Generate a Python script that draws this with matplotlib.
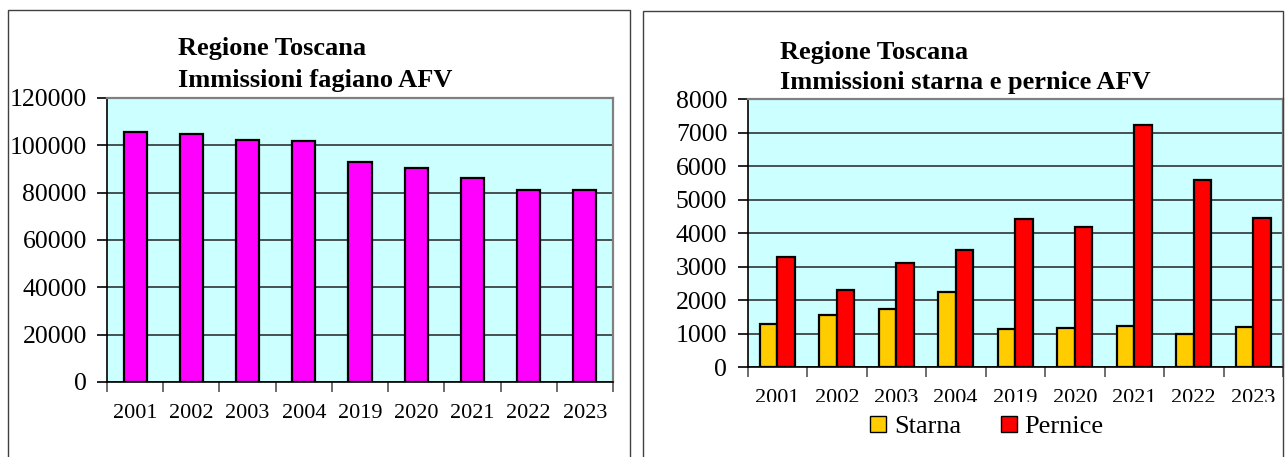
import matplotlib
matplotlib.use("Agg")
import matplotlib.pyplot as plt
import numpy as np
from matplotlib.patches import Rectangle
from matplotlib.transforms import Bbox

# ---------- data ----------
years = ["2001", "2002", "2003", "2004", "2019", "2020", "2021", "2022", "2023"]
fagiano = [105600, 105000, 102400, 101800, 93000, 90400, 86200, 81200, 81100]
starna = [1300, 1560, 1740, 2240, 1130, 1180, 1230, 1000, 1190]
pernice = [3280, 2320, 3100, 3510, 4420, 4190, 7230, 5590, 4450]

left_title = ["Regione Toscana", "Immissioni fagiano AFV"]
right_title = ["Regione Toscana", "Immissioni starna e pernice AFV"]

# ---------- style ----------
W, H = 1285, 457
BG = "#CCFFFF"
FONT = "Liberation Serif"
plt.rcParams["font.family"] = FONT

fig = plt.figure(figsize=(W / 100, H / 100), dpi=100)


def px_axes(x0, y0, x1, y1):
    # pixel box (top-left origin) -> figure axes
    return fig.add_axes([x0 / W, 1 - y1 / H, (x1 - x0) / W, (y1 - y0) / H])


def style_axes(ax, ymax, ystep):
    ax.set_facecolor(BG)
    ax.set_xlim(0, len(years))
    ax.set_ylim(0, ymax)
    ticks = np.arange(0, ymax + 1, ystep)
    ax.set_yticks(ticks)
    ax.set_yticklabels([str(int(t)) for t in ticks], fontsize=18.5, fontfamily=FONT)
    ax.yaxis.grid(True, color="#333333", linewidth=1.2)
    ax.set_axisbelow(True)
    # category boundaries as ticks, labels in the middle
    ax.set_xticks(np.arange(0, len(years) + 1))
    ax.set_xticklabels([])
    ax.set_xticks(np.arange(len(years)) + 0.5, minor=True)
    ax.set_xticklabels(years, minor=True, fontsize=16, fontfamily=FONT)
    ax.tick_params(axis="x", which="major", direction="out", length=7.5, width=1.2, color="#555555")
    ax.tick_params(axis="x", which="minor", length=0, pad=15.5)
    ax.tick_params(axis="y", direction="out", length=7.5, width=1.2, pad=7)
    for s in ("top", "right"):
        ax.spines[s].set_color("#808080")
        ax.spines[s].set_linewidth(1.6)
    for s in ("left", "bottom"):
        ax.spines[s].set_color("black")
        ax.spines[s].set_linewidth(1.2)


# panel borders
fig.patches.append(Rectangle((8 / W, -0.1), (630 - 8) / W, 1.1 - 10 / H,
                             transform=fig.transFigure, fill=False,
                             edgecolor="#404040", linewidth=1.0))
fig.patches.append(Rectangle((643 / W, -0.1), (1283 - 643) / W, 1.1 - 11 / H,
                             transform=fig.transFigure, fill=False,
                             edgecolor="#404040", linewidth=1.0))

# ---------- left chart ----------
ax1 = px_axes(107, 98, 613, 382)
style_axes(ax1, 120000, 20000)
x = np.arange(len(years)) + 0.5
ax1.bar(x, fagiano, width=0.41, color="#FF00FF", edgecolor="black", linewidth=1.6, zorder=3)

fig.text(178 / W, 1 - 48 / H, left_title[0], fontsize=19, fontweight="bold", va="center", ha="left")
fig.text(178 / W, 1 - 80 / H, left_title[1], fontsize=19, fontweight="bold", va="center", ha="left")

# ---------- right chart ----------
ax2 = px_axes(747.5, 99.3, 1283, 367.3)
style_axes(ax2, 8000, 1000)
bw = 0.29
ax2.bar(x - bw / 2, starna, width=bw, color="#FFCC00", edgecolor="black", linewidth=1.6,
        zorder=3, label="Starna")
ax2.bar(x + bw / 2, pernice, width=bw, color="#FF0000", edgecolor="black", linewidth=1.6,
        zorder=3, label="Pernice")

# year labels of the right chart are cut at the bottom in the original
clip = Bbox.from_extents(0, H - 402, W, H)
for lab in ax2.get_xticklabels(minor=True):
    lab.set_clip_box(clip)
    lab.set_clip_on(True)

fig.text(780 / W, 1 - 52 / H, right_title[0], fontsize=19, fontweight="bold", va="center", ha="left")
fig.text(780 / W, 1 - 82 / H, right_title[1], fontsize=19, fontweight="bold", va="center", ha="left")

leg = fig.legend(*ax2.get_legend_handles_labels(), loc="center",
                 bbox_to_anchor=(987 / W, 1 - 427 / H), ncol=2, frameon=False,
                 prop={"family": FONT, "size": 19}, handlelength=0.6, handleheight=0.6,
                 handletextpad=0.3, columnspacing=1.5)
for h in leg.legend_handles:
    h.set_linewidth(1.0)

fig.savefig("out.png", dpi=100)
